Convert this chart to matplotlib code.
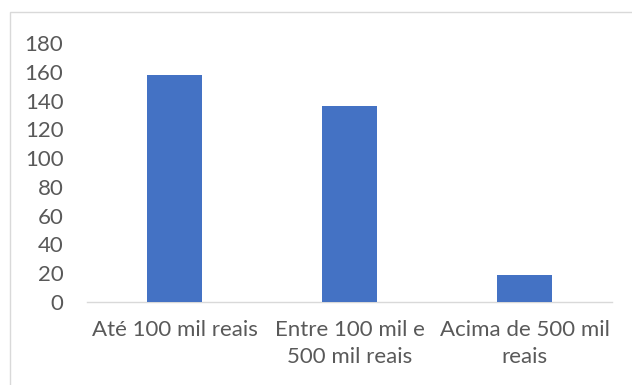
import matplotlib.pyplot as plt
from matplotlib.patches import Rectangle

categories = ["Até 100 mil reais", "Entre 100 mil e\n500 mil reais", "Acima de 500 mil\nreais"]
values = [158, 136, 19]
yticks = [0, 20, 40, 60, 80, 100, 120, 140, 160, 180]

plt.rcParams["font.family"] = ["Lato", "DejaVu Sans"]
text_color = "#595959"

fig = plt.figure(figsize=(6.32, 3.85), dpi=100)
W, H = 632, 385

# chart frame (cropped on right and bottom)
fig.patches.append(Rectangle((10 / W, -0.1), 1.2, 1 - 12 / H + 0.1, transform=fig.transFigure,
                             fill=False, edgecolor="#D9D9D9", linewidth=1))

ax = fig.add_axes([87 / W, 1 - 302 / H, (612 - 87) / W, (302 - 43) / H])
x = range(len(categories))
ax.bar(x, values, width=0.314, color="#4472C4", zorder=3)

ax.set_xlim(-0.5, 2.5)
ax.set_ylim(0, 180)
ax.set_yticks(yticks)
ax.set_xticks(list(x))
ax.set_xticklabels(categories, linespacing=1.45)

for s in ["top", "right", "left"]:
    ax.spines[s].set_visible(False)
ax.spines["bottom"].set_color("#D9D9D9")
ax.spines["bottom"].set_linewidth(1)

ax.tick_params(axis="both", length=0, labelsize=16, labelcolor=text_color)
ax.tick_params(axis="y", pad=17)
ax.tick_params(axis="x", pad=13)

fig.savefig("out.png", dpi=100)
